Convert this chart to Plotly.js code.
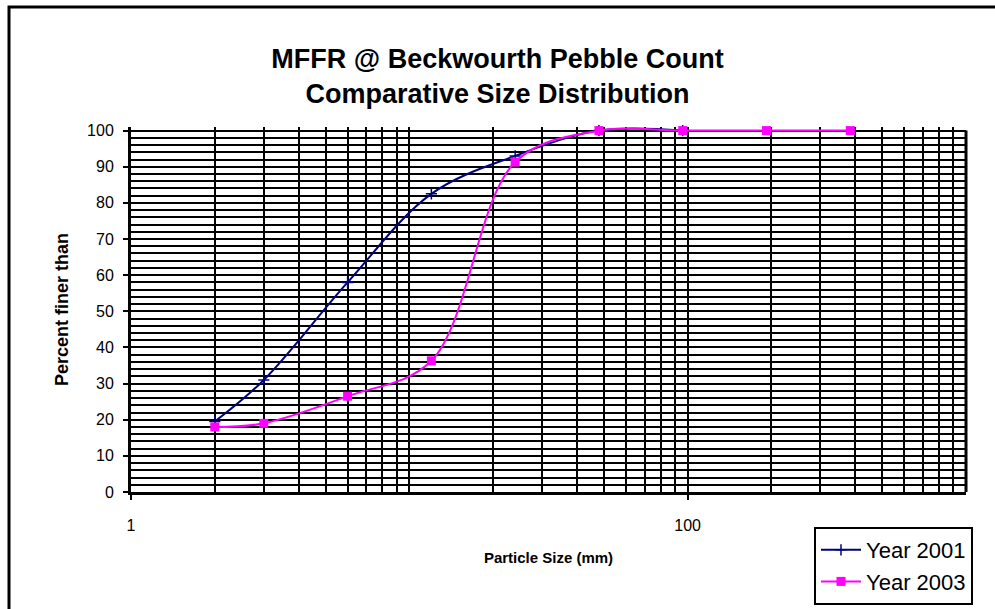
<!DOCTYPE html>
<html>
<head>
<meta charset="utf-8">
<script src="https://cdn.plot.ly/plotly-3.0.1.min.js"></script>
<style>html,body{margin:0;padding:0;background:#fff;}#chart{width:995px;height:609px;}</style>
</head>
<body>
<div id="chart"></div>
<script>
// Particle sizes (mm) and cumulative percent finer
const sizes2001 = [2, 3, 6, 12, 24, 48, 96];
const finer2001 = [19.5, 31, 58, 82.5, 93, 100, 100];
const sizes2003 = [2, 3, 6, 12, 24, 48, 96, 192, 384];
const finer2003 = [18, 19, 26.5, 36.3, 91.3, 100, 100, 100, 100];
const xTickVals = [1, 100];
const xTickText = ['1', '100'];
const xGridVals = [1,2,3,4,5,6,7,8,9,10,20,30,40,50,60,70,80,90,100,200,300,400,500,600,700,800,900,1000];
const yTickVals = [0,10,20,30,40,50,60,70,80,90,100];
const yGridVals = [2,4,6,8,12,14,16,18,22,24,26,28,32,34,36,38,42,44,46,48,52,54,56,58,62,64,66,68,72,74,76,78,82,84,86,88,92,94,96,98];
const seriesNames = ['Year 2001', 'Year 2003'];

const FONT = 'Arial, "Liberation Sans", sans-serif';
const L = 131, R = 29, T = 127, B = 117, W = 995, H = 609;
const pw = W - L - R, ph = H - T - B;
const px = v => (v - L) / pw;
const py = v => (H - B - v) / ph;

const traces = [
  {
    x: sizes2001, y: finer2001, name: seriesNames[0], type: 'scatter', mode: 'lines+markers',
    legendgroup: 'a',
    line: {color: '#000080', width: 2, shape: 'spline', smoothing: 1},
    marker: {symbol: 'cross-thin', size: 8, color: '#000080', line: {color: '#000080', width: 1.5}},
    cliponaxis: false
  },
  {
    x: sizes2003, y: finer2003, name: seriesNames[1], type: 'scatter', mode: 'lines+markers',
    legendgroup: 'b',
    line: {color: '#FF00FF', width: 2, shape: 'spline', smoothing: 1},
    marker: {symbol: 'square', size: 9, color: '#FF00FF'},
    cliponaxis: false
  }
];

const layout = {
  width: W, height: H,
  margin: {l: L, r: R, t: T, b: B, pad: 0, autoexpand: false},
  paper_bgcolor: '#fff', plot_bgcolor: '#fff',
  font: {family: FONT, color: '#000', size: 16},
  showlegend: true,
  title: {
    text: '<b>MFFR @ Beckwourth Pebble Count<br>Comparative Size Distribution</b>',
    font: {family: FONT, size: 27, color: '#000'},
    x: 0.5, xref: 'container', xanchor: 'center',
    y: 1 - 68 / H, yref: 'container', yanchor: 'middle'
  },
  xaxis: {
    type: 'log', range: [0, 3],
    tickmode: 'array', tickvals: xTickVals, ticktext: xTickText,
    ticks: 'outside', ticklen: 5, tickwidth: 2, tickcolor: '#000',
    tickfont: {family: FONT, size: 16, color: '#000'},
    ticklabelstandoff: 12,
    showgrid: true, gridcolor: '#000', gridwidth: 2,
    minor: {tickmode: 'array', tickvals: xGridVals, showgrid: true, gridcolor: '#000', gridwidth: 2, ticks: ''},
    showline: true, linecolor: '#000', linewidth: 3,
    zeroline: false, automargin: false,
    title: {text: '<b>Particle Size (mm)</b>', font: {family: FONT, size: 15, color: '#000'}, standoff: 20}
  },
  yaxis: {
    range: [0, 101], tickmode: 'array', tickvals: yTickVals,
    ticks: 'outside', ticklen: 5, tickwidth: 2, tickcolor: '#000',
    tickfont: {family: FONT, size: 16, color: '#000'},
    ticklabelstandoff: 6,
    showgrid: true, gridcolor: '#000', gridwidth: 2,
    minor: {tickmode: 'array', tickvals: yGridVals, showgrid: true, gridcolor: '#000', gridwidth: 2, ticks: ''},
    showline: true, linecolor: '#000', linewidth: 3,
    zeroline: false, automargin: false,
    title: {text: '<b>Percent finer than</b>', font: {family: FONT, size: 18, color: '#000'}, standoff: 14}
  },
  legend: {
    xref: 'container', yref: 'container',
    x: 814 / W, y: 1 - 527 / H, xanchor: 'left', yanchor: 'top',
    bgcolor: '#fff', bordercolor: '#000', borderwidth: 2,
    font: {family: FONT, size: 22, color: '#000'},
    itemwidth: 40,
    traceorder: 'grouped', tracegroupgap: 0
  },
  shapes: [
    {type: 'line', xref: 'paper', yref: 'y', x0: 1, x1: 1, y0: 0, y1: 100,
     line: {color: '#000', width: 3}, layer: 'above'},
    {type: 'rect', xref: 'paper', yref: 'paper', x0: px(9), x1: px(1015), y0: py(630), y1: py(7),
     line: {color: '#000', width: 3}, fillcolor: 'rgba(0,0,0,0)', layer: 'below'}
  ]
};

Plotly.newPlot('chart', traces, layout, {displayModeBar: false});
</script>
</body>
</html>
